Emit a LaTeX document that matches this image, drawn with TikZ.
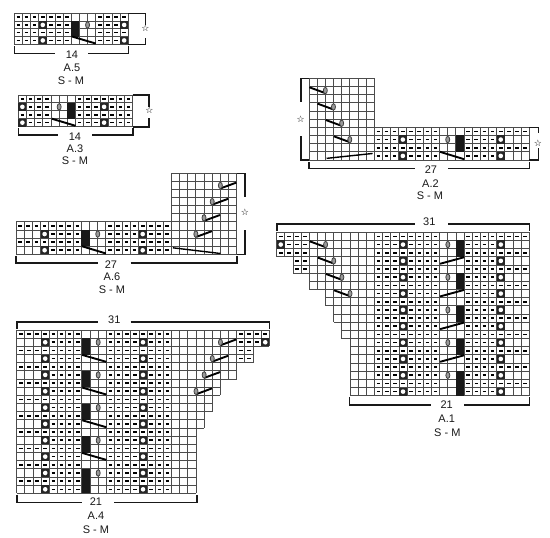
\documentclass[tikz,border=0pt]{standalone}
\usepackage{fontspec}
\setmainfont{Liberation Sans}
\newfontfamily\symfont{DejaVu Sans}
\usepackage{tikz}

% chart marks, in cell coordinates: row first, then column
\newcommand{\rowgrid}[3]{\foreach \gx in {#2,...,#3}{\draw[gridline] (\gx,#1-1) -- (\gx,#1);}\draw[gridline] (#2,#1-1) -- (#3,#1-1) (#2,#1) -- (#3,#1);}
\newcommand{\dashrun}[3]{\foreach \col in {#2,...,#3}{\draw[dashmark] (\col-0.72,#1-0.5) -- (\col-0.28,#1-0.5);}}
\newcommand{\dotcell}[2]{\fill[black!85] (#2-1,#1-1) rectangle (#2,#1); \fill[white] (#2-0.5,#1-0.5) circle (2.3pt);}
\newcommand{\blackcol}[3]{\fill[black!90] (#3-1,#1-1) rectangle (#3,#2);}
\newcommand{\yarnover}[2]{\draw[ovalmark] (#2,#1-0.5) ellipse (2pt and 3.2pt);}
\newcommand{\yarnleft}[2]{\draw[slash] (#2-1.95,#1-0.9) -- (#2-0.05,#1-0.2); \yarnover{#1}{#2}}
\newcommand{\yarnright}[2]{\draw[slash] (#2+0.05,#1-0.15) -- (#2+1.95,#1-0.85); \yarnover{#1}{#2}}

\begin{document}
\begin{tikzpicture}[x=1pt,y=-1pt,
  gridline/.style={line width=0.9pt,black!70},
  dashmark/.style={line width=1.6pt,black},
  ovalmark/.style={line width=0.8pt,draw=black!75,fill=black!40},
  slash/.style={line width=1.9pt,black},
  longslash/.style={line width=1.4pt,black},
  bracket/.style={line width=1.6pt,black!90},
  lbl/.style={font=\fontsize{11}{11}\selectfont,inner sep=0pt,black!90},
  starmark/.style={font=\symfont\fontsize{9}{9}\selectfont,inner sep=0pt},
]
  \useasboundingbox (0,0) rectangle (550,538);

  % A.5
  \begin{scope}[xshift=14.3pt,yshift=-13.3pt,x=8.14pt,y=-7.75pt]
    \foreach \r in {1,...,4}{\rowgrid{\r}{0}{14}}
    \blackcol{2}{3}{8}
    \foreach \r in {1,3}{\dashrun{\r}{1}{7}\dashrun{\r}{11}{14}}
    \foreach \r in {2,4}{\dashrun{\r}{1}{3}\dotcell{\r}{4}\dashrun{\r}{5}{7}\dashrun{\r}{11}{13}\dotcell{\r}{14}}
    \yarnover{2}{9}
    \draw[slash] (7.1,3) -- (10,3.9);
  \end{scope}
  \draw[bracket] (128.3,13.3) -- (145.5,13.3) -- (145.5,25);
  \draw[bracket] (145.5,38) -- (145.5,44.3) -- (128.3,44.3);
  \node[starmark] (a5star) at (145.5,28.5) {☆};
  \draw[bracket] (14.3,46) -- (14.3,53.3) -- (55,53.3);
  \draw[bracket] (88,53.3) -- (128.3,53.3) -- (128.3,46);
  \node[lbl] (a5num) at (72,55) {14};
  \node[lbl] (a5name) at (72,68) {A.5};
  \node[lbl] (a5size) at (71,81) {S - M};

  % A.3
  \begin{scope}[xshift=18.3pt,yshift=-95pt,x=8.17pt,y=-7.9pt]
    \foreach \r in {1,...,4}{\rowgrid{\r}{0}{14}}
    \blackcol{2}{3}{7}
    \foreach \r in {1,3}{\dashrun{\r}{1}{4}\dashrun{\r}{8}{14}}
    \foreach \r in {2,4}{\dotcell{\r}{1}\dashrun{\r}{2}{4}\dashrun{\r}{8}{10}\dotcell{\r}{11}\dashrun{\r}{12}{14}}
    \yarnover{2}{5}
    \draw[slash] (4.1,3) -- (7,3.9);
  \end{scope}
  \draw[bracket] (132.7,95) -- (149,95) -- (149,106.7);
  \draw[bracket] (149,118) -- (149,126.7) -- (132.7,126.7);
  \node[starmark] (a3star) at (149.5,110) {☆};
  \draw[bracket] (18.3,128) -- (18.3,135) -- (58,135);
  \draw[bracket] (92,135) -- (132.7,135) -- (132.7,128);
  \node[lbl] (a3num) at (75,137) {14};
  \node[lbl] (a3name) at (75,149) {A.3};
  \node[lbl] (a3size) at (75,161) {S - M};

  % A.2
  \begin{scope}[xshift=309pt,yshift=-78.3pt,x=8.16pt,y=-8.17pt]
    \foreach \r in {1,...,6}{\rowgrid{\r}{0}{8}}
    \foreach \r in {7,...,10}{\rowgrid{\r}{0}{27}}
    \blackcol{8}{9}{19}
    \foreach \r in {7,9}{\dashrun{\r}{9}{16}\dashrun{\r}{20}{27}}
    \foreach \r in {8,10}{\dashrun{\r}{9}{11}\dotcell{\r}{12}\dashrun{\r}{13}{16}\dashrun{\r}{20}{23}\dotcell{\r}{24}}
    \yarnover{8}{17}
    \draw[slash] (16.05,9) -- (19,9.9);
    \draw[longslash] (2.15,9.8) -- (7.8,9.2);
    \yarnleft{2}{2}
    \yarnleft{4}{3}
    \yarnleft{6}{4}
    \yarnleft{8}{5}
  \end{scope}
  \draw[bracket] (309,78.3) -- (300.7,78.3) -- (300.7,101.7);
  \draw[bracket] (300.7,136) -- (300.7,160) -- (309,160);
  \node[starmark] (a2starl) at (300.7,119.3) {☆};
  \draw[bracket] (529.3,127.3) -- (538.3,127.3) -- (538.3,133.3);
  \draw[bracket] (538.3,148) -- (538.3,160) -- (529.3,160);
  \node[starmark] (a2starr) at (538,143) {☆};
  \draw[bracket] (309,162.3) -- (309,168.3) -- (415,168.3);
  \draw[bracket] (448.3,168.3) -- (529.3,168.3) -- (529.3,162.3);
  \node[lbl] (a2num) at (431,170) {27};
  \node[lbl] (a2name) at (430.5,183.3) {A.2};
  \node[lbl] (a2size) at (430,196) {S - M};

  % A.6
  \begin{scope}[xshift=16pt,yshift=-173.3pt,x=8.175pt,y=-8.1pt]
    \foreach \r in {1,...,6}{\rowgrid{\r}{19}{27}}
    \foreach \r in {7,...,10}{\rowgrid{\r}{0}{27}}
    \blackcol{8}{9}{9}
    \foreach \r in {7,9}{\dashrun{\r}{1}{8}\dashrun{\r}{12}{19}}
    \foreach \r in {8,10}{\dotcell{\r}{4}\dashrun{\r}{5}{8}\dashrun{\r}{12}{15}\dotcell{\r}{16}\dashrun{\r}{17}{19}}
    \yarnover{8}{10}
    \draw[slash] (8.05,9) -- (11,9.9);
    \draw[longslash] (19.2,9.2) -- (25,9.9);
    \yarnright{2}{25}
    \yarnright{4}{24}
    \yarnright{6}{23}
    \yarnright{8}{22}
  \end{scope}
  \draw[bracket] (236.7,173.3) -- (245,173.3) -- (245,197.3);
  \draw[bracket] (245,230) -- (245,254.3) -- (236.7,254.3);
  \node[starmark] (a6star) at (245,212.7) {☆};
  \draw[bracket] (16,255.7) -- (16,262.7) -- (98.3,262.7);
  \draw[bracket] (130.7,262.7) -- (236.7,262.7) -- (236.7,255.7);
  \node[lbl] (a6num) at (111,265) {27};
  \node[lbl] (a6name) at (112,277) {A.6};
  \node[lbl] (a6size) at (112,290) {S - M};

  % A.1
  \begin{scope}[xshift=276.7pt,yshift=-232.3pt,x=8.15pt,y=-8.17pt]
    \foreach \r/\s in {1/0,2/0,3/0,4/2,5/2,6/4,7/4,8/6,9/6,10/7,11/7,12/8,13/8,14/9,15/9,16/9,17/9,18/9,19/9,20/9}{
      \rowgrid{\r}{\s}{31}
    }
    \foreach \r in {2,6,10,14}{\blackcol{\r}{\r+1}{23}\yarnover{\r}{21}}
    \blackcol{18}{20}{23}
    \yarnover{18}{21}
    \foreach \r in {1,3,...,19}{\dashrun{\r}{13}{20}\dashrun{\r}{24}{31}}
    \foreach \r in {2,4,...,20}{\dashrun{\r}{13}{15}\dotcell{\r}{16}\dashrun{\r}{17}{20}\dashrun{\r}{24}{27}\dotcell{\r}{28}}
    \foreach \r in {4,8,12,16}{\draw[slash] (20.05,\r-0.15) -- (23,\r-0.95);}
    \dashrun{1}{1}{4}
    \dotcell{2}{1}
    \dashrun{2}{2}{4}
    \dashrun{3}{1}{4}
    \dashrun{4}{3}{4}
    \dashrun{5}{3}{4}
    \yarnleft{2}{6}
    \yarnleft{4}{7}
    \yarnleft{6}{8}
    \yarnleft{8}{9}
  \end{scope}
  \draw[bracket] (276.7,231) -- (276.7,224) -- (415,224);
  \draw[bracket] (448.3,224) -- (529.3,224) -- (529.3,231);
  \node[lbl] (a1top) at (429.3,222) {31};
  \draw[bracket] (349.3,397) -- (349.3,405) -- (430.7,405);
  \draw[bracket] (464,405) -- (529.3,405) -- (529.3,397);
  \node[lbl] (a1num) at (446.7,405) {21};
  \node[lbl] (a1name) at (446.7,418.3) {A.1};
  \node[lbl] (a1size) at (447.3,432.7) {S - M};

  % A.4
  \begin{scope}[xshift=16.7pt,yshift=-330pt,x=8.15pt,y=-8.17pt]
    \foreach \r/\e in {1/31,2/31,3/29,4/29,5/27,6/27,7/25,8/25,9/24,10/24,11/23,12/23,13/22,14/22,15/22,16/22,17/22,18/22,19/22,20/22}{
      \rowgrid{\r}{0}{\e}
    }
    \foreach \r in {2,6,10,14}{\blackcol{\r}{\r+1}{9}\yarnover{\r}{10}}
    \blackcol{18}{20}{9}
    \yarnover{18}{10}
    \foreach \r in {1,3,...,19}{\dashrun{\r}{1}{8}\dashrun{\r}{12}{19}}
    \foreach \r in {2,4,...,20}{\dotcell{\r}{4}\dashrun{\r}{5}{8}\dashrun{\r}{12}{15}\dotcell{\r}{16}\dashrun{\r}{17}{19}}
    \foreach \r in {4,8,12,16}{\draw[slash] (8.05,\r-0.95) -- (11,\r-0.1);}
    \dashrun{1}{28}{31}
    \dashrun{2}{28}{30}
    \dotcell{2}{31}
    \dashrun{3}{28}{29}
    \dashrun{4}{28}{29}
    \yarnright{2}{25}
    \yarnright{4}{24}
    \yarnright{6}{23}
    \yarnright{8}{22}
  \end{scope}
  \draw[bracket] (16.7,329) -- (16.7,321.7) -- (98.3,321.7);
  \draw[bracket] (130.7,321.7) -- (269.3,321.7) -- (269.3,329);
  \node[lbl] (a4top) at (114.3,320) {31};
  \draw[bracket] (16.7,494.5) -- (16.7,502.3) -- (81.7,502.3);
  \draw[bracket] (114.3,502.3) -- (196.7,502.3) -- (196.7,494.5);
  \node[lbl] (a4num) at (96,502) {21};
  \node[lbl] (a4name) at (96,516) {A.4};
  \node[lbl] (a4size) at (96,530) {S - M};
\end{tikzpicture}
\end{document}
